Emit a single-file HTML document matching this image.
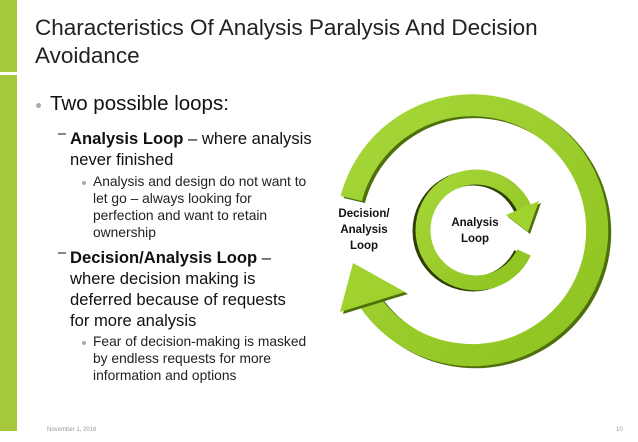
<!DOCTYPE html>
<html><head><meta charset="utf-8"><style>
body{margin:0;width:638px;height:442px;background:#fff;overflow:hidden;position:relative;font-family:"Liberation Sans",sans-serif;color:#111}
.t{position:absolute;white-space:nowrap;line-height:1}
.title{font-size:22.5px;color:#222;left:35px}
.l1{font-size:20.5px;left:50px}
.l2{font-size:16.6px;left:70px}
.l3{font-size:13.8px;left:93px;color:#222}
.dot{position:absolute;width:4px;height:4px;border-radius:50%;background:#aaa}
.dash{position:absolute;width:8px;height:1.5px;background:#888}
</style></head><body>
<div style="position:absolute;left:0;top:0;width:17px;height:72px;background:#a6c83b"></div>
<div style="position:absolute;left:0;top:75px;width:17px;height:356px;background:#a6c83b"></div>
<div class="t title" style="top:17px">Characteristics Of Analysis Paralysis And Decision</div>
<div class="t title" style="top:45px">Avoidance</div>
<div class="dot" style="left:36px;top:103px;width:5px;height:5px"></div>
<div class="t l1" style="top:94px">Two possible loops:</div>
<div class="dash" style="left:58px;top:133px"></div>
<div class="t l2" style="top:131px"><b>Analysis Loop</b> – where analysis</div>
<div class="t l2" style="top:152px">never finished</div>
<div class="dot" style="left:82px;top:181px"></div>
<div class="t l3" style="top:175px">Analysis and design do not want to</div>
<div class="t l3" style="top:192px">let go – always looking for</div>
<div class="t l3" style="top:209px">perfection and want to retain</div>
<div class="t l3" style="top:226px">ownership</div>
<div class="dash" style="left:58px;top:252px"></div>
<div class="t l2" style="top:250px"><b>Decision/Analysis Loop</b> –</div>
<div class="t l2" style="top:271px">where decision making is</div>
<div class="t l2" style="top:292px">deferred because of requests</div>
<div class="t l2" style="top:313px">for more analysis</div>
<div class="dot" style="left:82px;top:341px"></div>
<div class="t l3" style="top:335px">Fear of decision-making is masked</div>
<div class="t l3" style="top:352px">by endless requests for more</div>
<div class="t l3" style="top:369px">information and options</div>
<div class="t" style="left:47px;top:427px;font-size:6px;color:#999">November 1, 2016</div>
<div class="t" style="left:616px;top:427px;font-size:6px;color:#999">10</div>
<svg width="638" height="442" style="position:absolute;left:0;top:0">
<defs>
<linearGradient id="g" x1="0" y1="0" x2="1" y2="1"><stop offset="0" stop-color="#a8d83a"/><stop offset="1" stop-color="#8cc21f"/></linearGradient>
</defs>
<g transform="translate(3,2)" fill="#4f6e0c">
<path d="M340.6,196 A136,136 0 1 1 360.6,308 L378.6,295.3 A114,114 0 1 0 361.9,201 Z"/>
</g>
<path d="M340.6,196 A136,136 0 1 1 360.6,308 L378.6,295.3 A114,114 0 1 0 361.9,201 Z" fill="url(#g)"/>
<path d="M340,312 L405,292 L353,263 Z" fill="#4f6e0c" transform="translate(3,2)"/>
<path d="M340,312 L405,292 L353,263 Z" fill="#a0d22f"/>
<g transform="translate(-3,1)" fill="#2e3f05">
<path d="M530.8,255.6 A60.5,60.5 0 1 1 530.8,204.4 L517.2,210.8 A45.5,45.5 0 1 0 517.2,249.2 Z"/>
</g>
<path d="M530.8,255.6 A60.5,60.5 0 1 1 530.8,204.4 L517.2,210.8 A45.5,45.5 0 1 0 517.2,249.2 Z" fill="url(#g)"/>
<path d="M539,201 L506,215 L528,232 Z" fill="#4f6e0c" transform="translate(2,2)"/>
<path d="M539,201 L506,215 L528,232 Z" fill="#a0d22f"/>
<g font-family="Liberation Sans,sans-serif" font-weight="bold" font-size="11.5" fill="#111" text-anchor="middle">
<text x="364" y="217">Decision/</text>
<text x="364" y="233">Analysis</text>
<text x="364" y="249">Loop</text>
<text x="475" y="226">Analysis</text>
<text x="475" y="242">Loop</text>
</g>
</svg>
</body></html>
